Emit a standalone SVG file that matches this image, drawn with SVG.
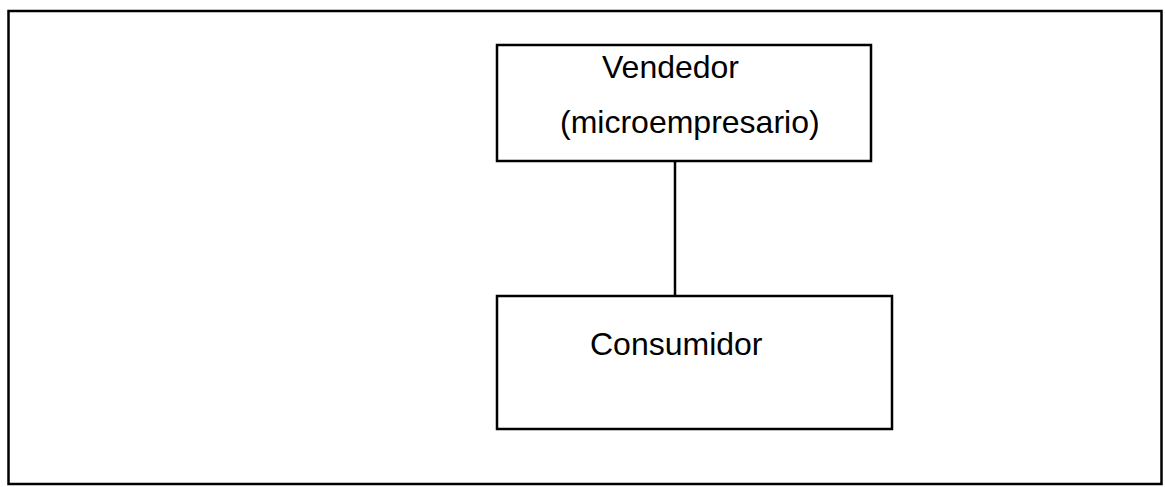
<svg xmlns="http://www.w3.org/2000/svg" width="1165" height="487" viewBox="0 0 1165 487">
<style>
.box{fill:#fff;stroke:#000;stroke-width:2.5}
.lbl{font-family:"Liberation Sans",Arial,sans-serif;font-size:32px;fill:#000}
.conn{stroke:#000;stroke-width:2.5;fill:none}
</style>
<rect width="1165" height="487" fill="#fff"/>
<rect x="8.5" y="11" width="1153" height="473" fill="none" stroke="#000" stroke-width="2.5"/>
<g id="connectors">
<line class="conn" x1="675" y1="161" x2="675" y2="296"/>
</g>
<g id="vendedor">
<rect class="box" x="497" y="45" width="374" height="116"/>
<text class="lbl" x="602" y="78">Vendedor</text>
<text class="lbl" x="560" y="133">(microempresario)</text>
</g>
<g id="consumidor">
<rect class="box" x="497" y="296" width="395" height="133"/>
<text class="lbl" x="590" y="355">Consumidor</text>
</g>
</svg>
